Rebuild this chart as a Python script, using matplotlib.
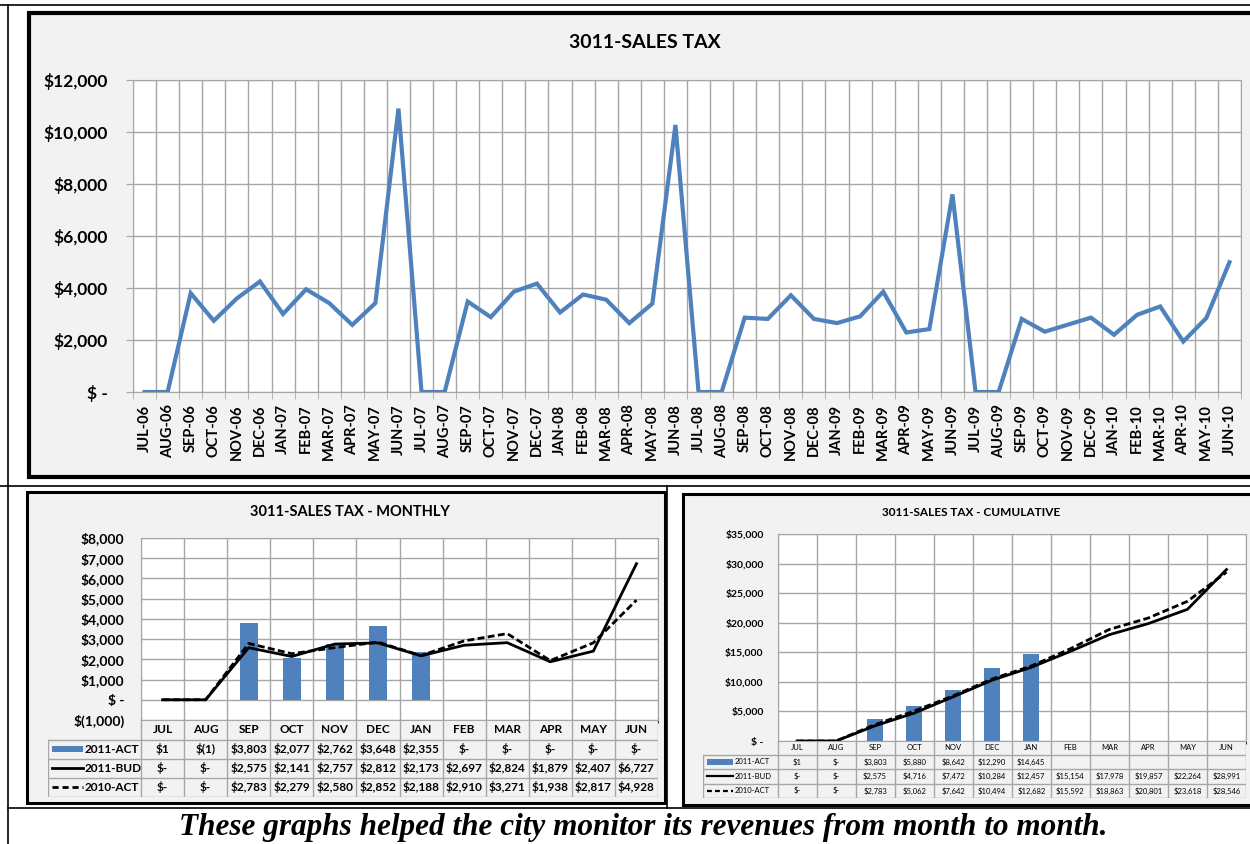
import numpy as np
import matplotlib
matplotlib.use("Agg")
import matplotlib.pyplot as plt
from matplotlib.patches import Rectangle
from matplotlib.lines import Line2D
from matplotlib.ticker import FuncFormatter

W, H = 1250, 844
BLUE = "#4F81BD"
GRID = "#A6A6A6"
PANEL = "#F2F2F2"
FONT = "Lato"

# --- data -------------------------------------------------------------------
months = ["JUL", "AUG", "SEP", "OCT", "NOV", "DEC",
          "JAN", "FEB", "MAR", "APR", "MAY", "JUN"]

# fiscal years 2006-07 .. 2009-10, labels like "JUL-06"
top_labels = [f"{m}-{6 + fy + (j >= 6):02d}"
              for fy in range(4) for j, m in enumerate(months)]

sales_tax = [0, 0, 3800, 2740, 3600, 4250, 3000, 3950, 3420, 2580, 3420, 10900,
             0, 0, 3480, 2880, 3860, 4170, 3060, 3750, 3550, 2650, 3400, 10270,
             0, 0, 2860, 2810, 3720, 2810, 2650, 2910, 3860, 2290, 2420, 7600,
             0, 0, 2810, 2320, 2590, 2860, 2200, 2970, 3290, 1940, 2850, 4990]

act_2011 = [1, -1, 3803, 2077, 2762, 3648, 2355, 0, 0, 0, 0, 0]
bud_2011 = [0, 0, 2575, 2141, 2757, 2812, 2173, 2697, 2824, 1879, 2407, 6727]
act_2010 = [0, 0, 2783, 2279, 2580, 2852, 2188, 2910, 3271, 1938, 2817, 4928]

cum_act_2011 = [1, 0, 3803, 5880, 8642, 12290, 14645, None, None, None, None, None]
cum_bud_2011 = [0, 0, 2575, 4716, 7472, 10284, 12457, 15154, 17978, 19857, 22264, 28991]
cum_act_2010 = [0, 0, 2783, 5062, 7642, 10494, 12682, 15592, 18863, 20801, 23618, 28546]


def money(v, space=True):
    if abs(v) < 0.5:
        return "$ -" if space else "$-"
    if v < 0:
        return f"$({-v:,.0f})"
    return f"${v:,.0f}"


def axes_px(fig, x0, y0, x1, y1):
    return fig.add_axes([x0 / W, 1 - y1 / H, (x1 - x0) / W, (y1 - y0) / H])


def fig_line(fig, xs, ys, lw=1.2):
    fig.add_artist(Line2D([x / W for x in xs], [1 - y / H for y in ys],
                          color="black", lw=lw, transform=fig.transFigure))


def panel(fig, x0, y0, x1, y1, lw):
    fig.add_artist(Rectangle((x0 / W, 1 - y1 / H), (x1 - x0) / W, (y1 - y0) / H,
                             facecolor=PANEL, edgecolor="black", lw=lw,
                             transform=fig.transFigure, zorder=0))


def style_cat_axes(ax, n, ymin, ymax, step, ylab_fs, ylab_pad):
    ax.set_xlim(-0.5, n - 0.5)
    ax.set_ylim(ymin, ymax)
    ax.set_yticks(np.arange(ymin, ymax + 1, step))
    ax.yaxis.set_major_formatter(FuncFormatter(lambda v, p: money(v)))
    ax.set_xticks(np.arange(-0.5, n, 1), minor=True)
    ax.grid(which="minor", axis="x", color=GRID, lw=1.0)
    ax.grid(which="major", axis="y", color=GRID, lw=1.0)
    ax.set_axisbelow(True)
    for s in ax.spines.values():
        s.set_color(GRID)
    ax.tick_params(axis="y", length=0, pad=ylab_pad, labelsize=ylab_fs)
    for t in ax.get_yticklabels():
        t.set_fontweight("bold")


def data_table(fig, left, x0, x1, cat_top, cat_bot, bottom, rows,
               cat_fs, val_fs, weight, key_w, lw_key):
    tab = axes_px(fig, left, cat_top, x1, bottom)
    tab.set_xlim(left, x1)
    tab.set_ylim(bottom, cat_top)
    tab.axis("off")
    n = len(months)
    cw = (x1 - x0) / n
    row_h = (bottom - cat_bot) / len(rows)
    for i in range(n + 1):
        tab.plot([x0 + i * cw] * 2, [cat_top, bottom], color=GRID, lw=1.0)
    tab.plot([left] * 2, [cat_bot, bottom], color=GRID, lw=1.0)
    for r in range(len(rows) + 1):
        y = cat_bot + r * row_h
        tab.plot([left, x1], [y, y], color=GRID, lw=1.0)
    for i, lab in enumerate(months):
        tab.text(x0 + (i + 0.5) * cw, (cat_top + cat_bot) / 2, lab,
                 ha="center", va="center", fontsize=cat_fs, weight=weight)
    for r, (name, kind, values) in enumerate(rows):
        yc = cat_bot + (r + 0.5) * row_h
        kx0, kx1 = left + 4, left + 4 + key_w
        if kind == "bar":
            tab.add_patch(Rectangle((kx0, yc - 3), key_w, 6, color=BLUE, lw=0))
        else:
            tab.plot([kx0, kx1], [yc, yc], color="black", lw=lw_key,
                     ls="-" if kind == "solid" else (0, (2.2, 1.4)))
        tab.text(kx1 + 2, yc, name, ha="left", va="center",
                 fontsize=cat_fs, weight=weight)
        for i, v in enumerate(values):
            if v is None:
                continue
            tab.text(x0 + (i + 0.5) * cw, yc, money(v, space=False),
                     ha="center", va="center", fontsize=val_fs, weight=weight)


plt.rcParams["font.family"] = [FONT, "DejaVu Sans"]
fig = plt.figure(figsize=(W / 100, H / 100), dpi=100)

# document table borders
fig_line(fig, [0, W], [5, 5])
fig_line(fig, [8, 8], [5, H])
fig_line(fig, [0, W], [486, 486])
fig_line(fig, [667, 667], [486, 808])
fig_line(fig, [8, W], [808, 808])

# --- top: full history -------------------------------------------------------
panel(fig, 29, 13, 1260, 477, 3.0)
ax = axes_px(fig, 133, 80, 1241, 392)
x = np.arange(len(sales_tax))
ax.plot(x, sales_tax, color=BLUE, lw=3.0, solid_joinstyle="miter")
style_cat_axes(ax, len(sales_tax), 0, 12000, 2000, 12.5, 13)
ax.tick_params(axis="y", length=5, color=GRID, pad=13)
ax.set_xticks(x)
ax.set_xticklabels(top_labels, rotation=90, fontsize=10.5, fontweight="bold")
ax.tick_params(axis="x", which="major", length=0, pad=9)
ax.tick_params(axis="x", which="minor", length=5, color=GRID)
fig.text(645 / W, 1 - 43 / H, "3011-SALES TAX", ha="center", va="center",
         fontsize=14, weight="bold")

# --- bottom left: monthly ----------------------------------------------------
panel(fig, 27, 492, 665, 803, 2.2)
ax2 = axes_px(fig, 141, 538, 658, 720)
xm = np.arange(len(months))
ax2.bar(xm, act_2011, width=0.41, color=BLUE, zorder=2)
ax2.plot(xm, bud_2011, color="black", lw=2.0, zorder=3)
ax2.plot(xm, act_2010, color="black", lw=2.0, ls=(0, (2.5, 1.2)), zorder=3)
style_cat_axes(ax2, len(months), -1000, 8000, 1000, 10, 12)
ax2.set_xticks([])
fig.text(350 / W, 1 - 512 / H, "3011-SALES TAX - MONTHLY", ha="center",
         va="center", fontsize=10.5, weight="bold")
data_table(fig, 48, 141, 658, 720, 740, 797,
           [("2011-ACT", "bar", act_2011),
            ("2011-BUD", "solid", bud_2011),
            ("2010-ACT", "dashed", act_2010)],
           8.5, 8.5, "bold", 31, 2.0)

# --- bottom right: cumulative ------------------------------------------------
panel(fig, 683, 494, 1260, 805, 2.2)
ax3 = axes_px(fig, 777.5, 534, 1246, 741)
cum_bars = [np.nan if v is None else v for v in cum_act_2011]
ax3.bar(xm, cum_bars, width=0.41, color=BLUE, zorder=2)
ax3.plot(xm, cum_bud_2011, color="black", lw=2.0, zorder=3)
ax3.plot(xm, cum_act_2010, color="black", lw=2.0, ls=(0, (2.5, 1.2)), zorder=3)
style_cat_axes(ax3, len(months), 0, 35000, 5000, 7.5, 10)
ax3.set_xticks([])
fig.text(971 / W, 1 - 512 / H, "3011-SALES TAX - CUMULATIVE", ha="center",
         va="center", fontsize=8.5, weight="bold")
data_table(fig, 702.5, 777.5, 1246, 741, 754.5, 798,
           [("2011-ACT", "bar", cum_act_2011),
            ("2011-BUD", "solid", cum_bud_2011),
            ("2010-ACT", "dashed", cum_act_2010)],
           5.5, 5.5, "normal", 26, 1.6)

fig.text(643 / W, 1 - 828 / H,
         "These graphs helped the city monitor its revenues from month to month.",
         ha="center", va="center", fontsize=22.5, family="Liberation Serif",
         weight="bold", style="italic")

fig.savefig("out.png", dpi=100)
